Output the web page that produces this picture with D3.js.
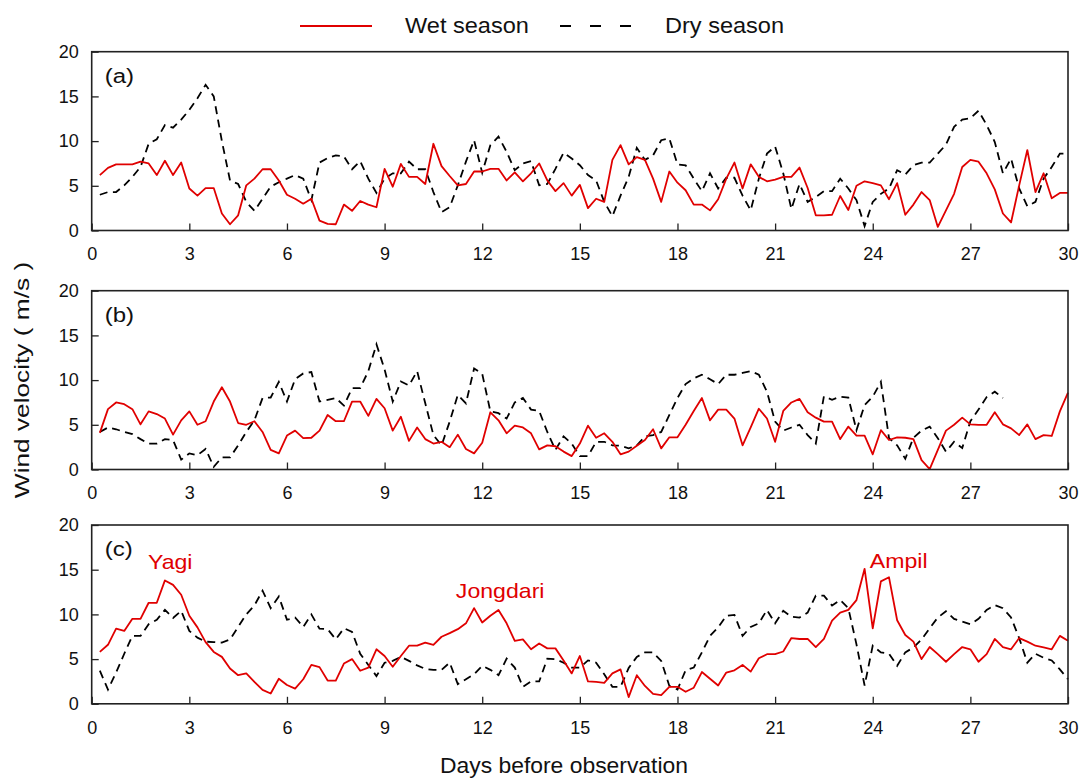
<!DOCTYPE html>
<html>
<head>
<meta charset="utf-8">
<script src="https://cdn.jsdelivr.net/npm/d3@7"></script>
<style>
  html, body { margin: 0; padding: 0; background: #fff; }
  svg { display: block; font-family: "Liberation Sans", Arial, sans-serif; }
</style>
</head>
<body>
<svg id="chart" width="1079" height="778"></svg>
<script>
// ---- data (6-hourly samples, day 0.25 .. 30) ----
const wetA = [6.2,7.0,7.4,7.4,7.4,7.7,7.5,6.2,7.8,6.2,7.6,4.7,
  3.9,4.75,4.75,1.9,0.7,1.7,5.05,5.8,6.85,6.85,5.6,4.0,
  3.55,3.0,3.55,1.1,0.75,0.7,2.9,2.2,3.3,2.9,2.6,6.9,
  4.9,7.45,6.0,6.0,5.2,9.7,7.2,6.1,5.05,5.2,6.6,6.6,
  6.9,6.9,5.6,6.5,5.5,6.4,7.5,5.6,4.4,5.3,3.9,5.1,
  2.5,3.55,3.2,7.9,9.55,7.4,8.2,7.9,5.8,3.2,6.6,5.35,
  4.5,2.9,2.9,2.25,3.5,5.8,7.6,4.7,7.4,6.0,5.5,5.7,
  6.0,6.0,7.04,4.75,1.7,1.7,1.76,3.86,2.3,5.0,5.5,5.3,
  5.05,3.5,5.3,1.76,2.9,4.3,3.4,0.4,2.25,4.1,7.1,7.9,
  7.7,6.4,4.6,1.9,0.9,5.05,9.0,4.3,6.4,3.6,4.2,4.2];
const dryA = [4.0,4.3,4.3,5.05,6.0,7.1,9.7,10.2,11.8,11.5,12.4,13.5,
  14.8,16.3,15.0,10.0,5.6,5.2,3.2,2.2,3.55,4.9,5.4,5.8,
  6.2,5.8,3.4,7.6,8.1,8.4,8.3,6.85,7.75,5.8,4.2,5.8,
  6.4,6.4,7.7,6.85,6.85,4.3,2.06,2.6,5.05,7.7,10.1,6.45,
  9.55,10.5,8.8,6.75,7.5,7.75,5.05,5.2,6.9,8.7,8.05,7.3,
  6.2,5.6,3.2,1.6,3.9,6.0,9.25,7.9,8.4,10.1,10.3,7.4,
  7.3,5.8,4.4,6.4,4.7,5.9,5.9,3.9,2.25,5.8,8.6,9.4,
  6.4,2.4,5.2,3.2,3.75,4.4,4.4,5.8,4.7,3.4,0.5,3.2,
  4.1,4.7,6.75,6.25,7.3,7.6,7.6,8.6,9.6,11.6,12.4,12.55,
  13.4,11.8,9.9,6.4,8.05,4.7,2.7,3.2,5.8,7.1,8.6,8.6];
const wetB = [4.1,6.75,7.5,7.3,6.75,5.05,6.5,6.2,5.7,3.9,5.5,6.5,
  5.0,5.4,7.6,9.2,7.6,5.2,5.0,5.4,4.2,2.2,1.8,3.8,
  4.35,3.5,3.55,4.35,6.1,5.4,5.4,7.6,7.6,6.0,7.9,6.85,
  4.35,5.9,3.2,4.7,3.4,2.9,3.1,2.5,3.9,2.3,1.8,3.0,
  6.4,5.5,4.05,4.9,4.7,4.05,2.25,2.7,2.6,2.0,1.5,2.9,
  4.9,3.55,4.05,3.1,1.7,2.0,2.65,3.3,4.5,2.36,3.6,3.6,
  5.0,6.55,8.0,5.5,6.7,6.7,5.7,2.7,4.7,6.8,5.7,3.1,
  6.55,7.5,7.9,6.4,5.8,5.35,5.35,3.4,4.8,3.8,3.8,1.7,
  4.4,3.3,3.6,3.55,3.4,1.05,0.05,2.2,4.35,5.0,5.8,5.05,
  5.0,5.0,6.4,5.05,4.6,3.85,5.05,3.4,3.85,3.75,6.5,8.6];
const dryB = [4.2,4.7,4.5,4.2,3.97,3.4,2.9,2.9,3.4,3.3,1.1,1.8,
  1.6,2.3,0.3,1.35,1.35,2.7,4.2,5.5,8.0,8.05,9.8,7.6,
  10.1,10.75,10.9,7.6,7.8,8.0,7.15,9.1,9.1,11.0,14.0,11.2,
  7.6,9.85,9.4,11.0,7.4,3.85,2.7,5.35,8.35,7.4,11.3,10.7,
  6.5,6.3,5.7,7.5,8.0,6.7,6.55,4.2,2.2,3.7,2.9,1.5,
  1.5,3.1,3.1,2.7,2.65,2.36,2.7,3.7,3.85,4.2,6.1,8.0,
  9.55,10.2,10.6,10.1,9.55,10.6,10.6,10.8,11.0,10.6,8.7,5.35,
  4.35,4.7,5.0,3.85,2.9,8.2,7.8,8.15,8.05,4.4,7.2,8.15,
  9.8,3.5,2.7,1.2,3.55,4.35,4.8,3.5,2.0,3.1,2.4,5.4,
  6.7,8.1,8.7,8.0,null,null,null,null,null,null,null,null];
const wetC = [5.8,6.6,8.4,8.15,9.5,9.5,11.3,11.3,13.8,13.3,12.2,9.85,
  8.55,6.9,5.8,5.25,3.95,3.2,3.4,2.45,1.55,1.15,2.8,2.1,
  1.7,2.75,4.35,4.1,2.6,2.6,4.5,5.0,3.7,4.05,6.1,5.35,
  4.15,5.35,6.5,6.5,6.85,6.6,7.5,7.9,8.35,9.0,10.7,9.1,
  9.85,10.5,9.0,7.05,7.2,6.1,6.75,6.2,6.2,4.85,3.4,5.35,
  2.5,2.45,2.35,3.4,3.85,0.75,3.2,2.0,1.1,0.97,1.9,1.9,
  1.35,1.8,3.55,2.8,2.05,3.5,3.75,4.35,3.6,5.1,5.55,5.55,
  5.85,7.35,7.25,7.25,6.35,7.25,9.3,10.2,10.5,11.6,15.1,8.45,
  13.7,14.15,9.35,7.7,6.95,5.0,6.35,5.55,4.7,5.55,6.35,6.1,
  4.7,5.55,7.25,6.35,6.1,7.35,6.95,6.5,6.3,6.1,7.6,7.05];
const dryC = [3.7,1.6,3.5,5.6,7.6,7.6,8.9,9.4,10.5,9.6,10.4,8.15,
  7.4,6.95,6.9,6.85,7.2,8.6,10.0,11.0,12.65,10.7,12.0,9.4,
  9.65,8.6,10.0,8.4,8.35,7.2,8.45,8.05,5.6,4.35,3.1,4.6,
  4.8,5.25,4.8,4.3,3.9,3.8,3.8,4.6,2.2,2.75,3.3,4.25,
  3.8,3.2,5.05,4.05,1.9,2.5,2.5,5.05,5.0,4.6,4.05,4.05,
  4.85,4.6,3.3,1.9,1.9,4.0,5.25,5.75,5.75,4.8,2.0,1.6,
  3.75,4.05,5.75,7.6,8.55,9.85,9.95,7.6,8.6,9.0,10.5,9.0,
  10.4,9.75,9.65,10.2,12.1,12.1,11.0,11.6,10.7,6.65,2.05,6.5,
  5.75,5.6,4.25,5.75,6.3,7.2,8.45,9.65,10.35,9.5,9.2,8.9,
  9.5,10.5,11.05,10.7,9.65,7.35,4.6,5.6,5.15,4.85,3.85,2.75];

const panelLabels = ["(a)", "(b)", "(c)"];
const xTicks = [0,3,6,9,12,15,18,21,24,27,30];
const yTicks = [0,5,10,15,20];
const seriesNames = ["Wet season", "Dry season"];
const storms = [ {name:"Yagi", day:1.73, value:15.1},
                 {name:"Jongdari", day:11.19, value:11.8},
                 {name:"Ampil", day:23.91, value:15.2} ];
const days = wetA.map((_, i) => (i + 1) * 0.25);

// ---- layout ----
const svg = d3.select("#chart");
const left = 91.7, right = 1068;
const panelTops = [51.7, 290.7, 525];
const panelH = 178.8;
const RED = "#e00000";
const STRETCH = 1.1; // reference glyphs are slightly wider than Liberation Sans

function widen(sel, factor) {
  sel.each(function () {
    const w = this.getComputedTextLength();
    d3.select(this).attr("textLength", w * factor).attr("lengthAdjust", "spacingAndGlyphs");
  });
  return sel;
}

const x = d3.scaleLinear().domain([0, 30]).range([left, right]);

const panels = [
  {wet: wetA, dry: dryA},
  {wet: wetB, dry: dryB},
  {wet: wetC, dry: dryC}
];

panels.forEach((p, k) => {
  const top = panelTops[k], bottom = top + panelH;
  const y = d3.scaleLinear().domain([0, 20]).range([bottom, top]);
  const g = svg.append("g");

  const line = d3.line()
    .defined(d => d[1] != null)
    .x(d => x(d[0])).y(d => y(d[1]));

  g.append("path")
    .datum(days.map((d, i) => [d, p.dry[i]]))
    .attr("d", line)
    .attr("fill", "none").attr("stroke", "#000")
    .attr("stroke-width", 1.8).attr("stroke-dasharray", "8,5.5");

  g.append("path")
    .datum(days.map((d, i) => [d, p.wet[i]]))
    .attr("d", line)
    .attr("fill", "none").attr("stroke", RED)
    .attr("stroke-width", 1.8).attr("stroke-linejoin", "round");

  // axes
  const xa = g.append("g").attr("transform", `translate(0,${bottom})`)
    .call(d3.axisBottom(x).tickValues(xTicks).tickSizeInner(-7).tickSizeOuter(0).tickPadding(17));
  const ya = g.append("g").attr("transform", `translate(${left},0)`)
    .call(d3.axisLeft(y).tickValues(yTicks).tickSizeInner(-7).tickSizeOuter(0).tickPadding(13));
  [xa, ya].forEach(a => {
    a.select(".domain").remove();
    a.selectAll("line").attr("stroke", "#222").attr("stroke-width", 1.3);
    a.selectAll("text").attr("font-size", 18).attr("fill", "#111")
      .attr("font-family", "'Liberation Sans', Arial, sans-serif");
  });

  g.append("rect")
    .attr("x", left).attr("y", top)
    .attr("width", right - left).attr("height", panelH)
    .attr("fill", "none").attr("stroke", "#222").attr("stroke-width", 1.6);

  widen(g.append("text").attr("x", left + 13).attr("y", top + 31)
    .attr("font-size", 20).attr("fill", "#111").text(panelLabels[k]), 1.2);

  if (k === 2) {
    widen(g.selectAll("text.storm").data(storms).enter().append("text")
      .attr("class", "storm")
      .attr("x", d => x(d.day)).attr("y", d => y(d.value))
      .attr("font-size", 21).attr("fill", RED).text(d => d.name), STRETCH);
  }
});

// legend
const lg = svg.append("g");
lg.append("line").attr("x1", 300).attr("x2", 372).attr("y1", 26).attr("y2", 26)
  .attr("stroke", RED).attr("stroke-width", 1.8);
widen(lg.append("text").attr("x", 405).attr("y", 33).attr("font-size", 22).attr("fill", "#111").text(seriesNames[0]), 1.07);
lg.append("line").attr("x1", 560).attr("x2", 632).attr("y1", 26).attr("y2", 26)
  .attr("stroke", "#000").attr("stroke-width", 1.8).attr("stroke-dasharray", "11,19");
widen(lg.append("text").attr("x", 665).attr("y", 33).attr("font-size", 22).attr("fill", "#111").text(seriesNames[1]), 1.07);

// axis titles
widen(svg.append("text").attr("transform", "translate(29,380) rotate(-90)")
  .attr("text-anchor", "middle").attr("font-size", 21).attr("fill", "#111")
  .text("Wind velocity ( m/s )"), 1.25);
widen(svg.append("text").attr("x", 564).attr("y", 773)
  .attr("text-anchor", "middle").attr("font-size", 22).attr("fill", "#111")
  .text("Days before observation"), 1.04);
</script>
</body>
</html>
